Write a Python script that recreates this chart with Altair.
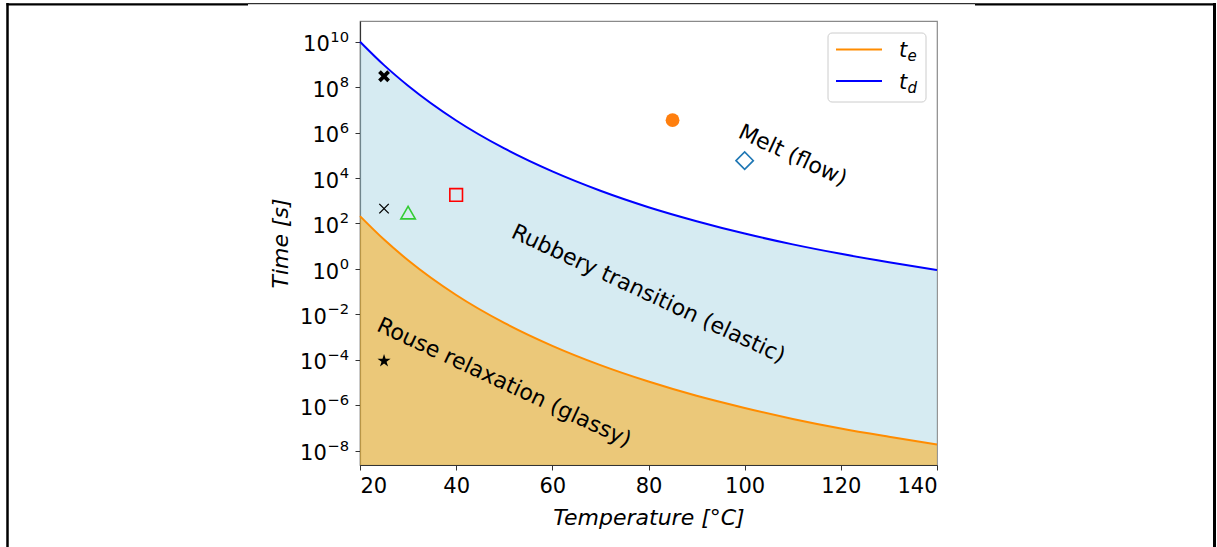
import altair as alt
import pandas as pd

# ---- data ----
temperature = [20, 25, 30, 40, 50, 60, 70, 80, 90, 100, 110, 120, 130, 140]
t_d = [1.0e10, 9.3e8, 1.15e8, 3.4e6, 2.0e5, 1.95e4, 2.75e3, 5.2e2, 1.26e2, 36.0, 12.0, 4.6, 1.95, 0.89]
t_e = [2.1e2, 19.5, 2.4, 7.1e-2, 4.2e-3, 4.1e-4, 5.8e-5, 1.1e-5, 2.6e-6, 7.6e-7, 2.5e-7, 9.5e-8, 4.1e-8, 1.86e-8]

marker_T = [25, 25, 30, 40, 85, 100, 25]
marker_time = [3.0e8, 4.5e2, 3.0e2, 1.8e3, 3.5e6, 5.8e4, 9.0e-5]

region_labels = ["Melt (flow)", "Rubbery transition (elastic)", "Rouse relaxation (glassy)"]
region_T = [110, 80, 50]
region_time = [1.0e5, 8.0e-2, 1.0e-5]

x_ticks = [20, 40, 60, 80, 100, 120, 140]
y_exponents = [-8, -6, -4, -2, 0, 2, 4, 6, 8, 10]
y_ticks = [10.0 ** e for e in y_exponents]

y_min = 10 ** -8.63
y_max = 10 ** 10.91

# ---- styles ----
FONT = "DejaVu Sans"
TICK_FS = 21
SUP_FS = 14.7
X_BOLD = "M-1,-0.55L-0.55,-1L0,-0.45L0.55,-1L1,-0.55L0.45,0L1,0.55L0.55,1L0,0.45L-0.55,1L-1,0.55L-0.45,0Z"
X_THIN = "M-1,-1L1,1M-1,1L1,-1"
STAR = ("M0,-1L0.2245,-0.309L0.951,-0.309L0.363,0.118L0.588,0.809L0,0.382"
        "L-0.588,0.809L-0.363,0.118L-0.951,-0.309L-0.2245,-0.309Z")
marker_styles = [
    dict(shape=X_BOLD, filled=True, color="black", size=140),
    dict(shape=X_THIN, filled=False, color="black", size=90, strokeWidth=1.3),
    dict(shape="triangle-up", filled=False, color="#33cc33", size=210, strokeWidth=1.6),
    dict(shape="square", filled=False, color="red", size=160, strokeWidth=1.6),
    dict(shape="circle", filled=True, color="#ff7f0e", size=190),
    dict(shape="diamond", filled=False, color="#1f77b4", size=300, strokeWidth=1.6),
    dict(shape=STAR, filled=True, color="black", size=190),
]

x_scale = alt.Scale(domain=[20, 140], nice=False, zero=False)
y_scale = alt.Scale(type="log", domain=[y_min, y_max], nice=False)
x_axis = alt.Axis(values=x_ticks, title="Temperature [°C]", titleX=288.5, titleY=59,
                  titleBaseline="alphabetic", titleAlign="center", labelPadding=5)
y_axis = alt.Axis(values=y_ticks, title="Time [s]", labels=False,
                  titleX=-80, titleY=222, titleAngle=270, titleAlign="center",
                  titleBaseline="middle")


def X(field):
    return alt.X(field, type="quantitative", scale=x_scale, axis=x_axis)


def Y(field):
    return alt.Y(field, type="quantitative", scale=y_scale, axis=y_axis)


curves = pd.DataFrame({"T": temperature, "td": t_d, "te": t_e, "floor": [y_min] * len(temperature)})

area_blue = alt.Chart(curves).mark_area(color="#add8e6", opacity=0.5, interpolate="monotone").encode(
    x=X("T"), y=Y("td"), y2=alt.Y2("floor"))
area_orange = alt.Chart(curves).mark_area(color="#ffa500", opacity=0.5, interpolate="monotone").encode(
    x=X("T"), y=Y("te"), y2=alt.Y2("floor"))
line_blue = alt.Chart(curves).mark_line(color="#0000ff", strokeWidth=2, interpolate="monotone").encode(
    x=X("T"), y=Y("td"))
line_orange = alt.Chart(curves).mark_line(color="#ff8c00", strokeWidth=2, interpolate="monotone").encode(
    x=X("T"), y=Y("te"))

layers = [area_blue, area_orange, line_blue, line_orange]

for T, tm, st in zip(marker_T, marker_time, marker_styles):
    df = pd.DataFrame({"T": [T], "time": [tm]})
    layers.append(alt.Chart(df).mark_point(opacity=1, **st).encode(x=X("T"), y=Y("time")))

regions = pd.DataFrame({"T": region_T, "time": region_time, "label": region_labels})
layers.append(alt.Chart(regions).mark_text(angle=25, font=FONT, fontSize=22, align="center",
                                           baseline="middle", color="black").encode(
    x=X("T"), y=Y("time"), text="label:N"))

# ---- y tick labels as 10 + superscript exponent (mathtext look) ----
LABEL_END = -11
for e, v in zip(y_exponents, y_ticks):
    exp_txt = str(e).replace("-", "\u2212")
    w_sup = sum((0.838 if ch == "\u2212" else 0.636) * SUP_FS for ch in exp_txt)
    df = pd.DataFrame({"val": [v], "base": ["10"], "exp": [exp_txt]})
    layers.append(alt.Chart(df).mark_text(font=FONT, fontSize=TICK_FS, align="right", baseline="alphabetic",
                                          dy=9.7, color="black").encode(
        x=alt.value(LABEL_END - w_sup - 0.5), y=Y("val"), text="base:N"))
    layers.append(alt.Chart(df).mark_text(font=FONT, fontSize=SUP_FS, align="right", baseline="alphabetic",
                                          dy=0, color="black").encode(
        x=alt.value(LABEL_END), y=Y("val"), text="exp:N"))

# ---- legend (drawn by hand for subscripts) ----
one = pd.DataFrame({"a": [0]})
layers.append(alt.Chart(one).mark_rect(fill="white", fillOpacity=0.8, stroke="#cccccc", strokeWidth=1,
                                       cornerRadius=4).encode(
    x=alt.value(468), x2=alt.value(566), y=alt.value(12), y2=alt.value(81)))
legend_names = ["e", "d"]
legend_colors = ["#ff8c00", "#0000ff"]
legend_y = [28.5, 60]
for name, col, ly in zip(legend_names, legend_colors, legend_y):
    layers.append(alt.Chart(one).mark_rule(color=col, strokeWidth=2).encode(
        x=alt.value(476), x2=alt.value(522), y=alt.value(ly)))
    layers.append(alt.Chart(one).mark_text(text="t", font=FONT, fontStyle="italic", fontSize=21,
                                           align="left", baseline="alphabetic", color="black").encode(
        x=alt.value(539), y=alt.value(ly + 7.5)))
    layers.append(alt.Chart(one).mark_text(text=name, font=FONT, fontStyle="italic", fontSize=15,
                                           align="left", baseline="alphabetic", color="black").encode(
        x=alt.value(547.5), y=alt.value(ly + 11.5)))

# ---- page frame ----
frame = [
    dict(x=-352.5, y=-18, y2=526, w=2.5),
    dict(x=854.5, y=-18, y2=526, w=3),
]
for f in frame:
    layers.append(alt.Chart(one).mark_rule(color="black", strokeWidth=f["w"]).encode(
        x=alt.value(f["x"]), y=alt.value(f["y"]), y2=alt.value(f["y2"])))
hframe = [
    dict(x=-353.5, x2=-112, y=-16.7, w=2.2),
    dict(x=-112, x2=615, y=-17.3, w=1),
    dict(x=615, x2=856, y=-16.7, w=2.2),
]
for f in hframe:
    layers.append(alt.Chart(one).mark_rule(color="black", strokeWidth=f["w"]).encode(
        x=alt.value(f["x"]), x2=alt.value(f["x2"]), y=alt.value(f["y"])))

chart = alt.layer(*layers).properties(
    width=577, height=444,
    padding={"left": 360, "top": 21, "right": 280, "bottom": 82},
    autosize=alt.AutoSizeParams(type="none"),
    background="white",
).configure_view(stroke="#8a8a8a", strokeWidth=1.2).configure_axis(
    grid=False, domainColor="#333333", domainWidth=1.2, tickColor="#333333", tickSize=5,
    labelFont=FONT, labelFontSize=TICK_FS, labelColor="black",
    titleFont=FONT, titleFontSize=22, titleFontStyle="italic", titleFontWeight="normal", titleColor="black",
)

chart.save("out.html", embed_options={"renderer": "svg", "actions": False})
